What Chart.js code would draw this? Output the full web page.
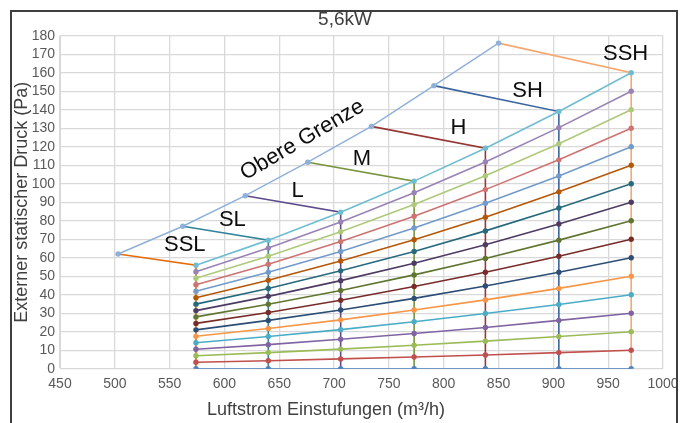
<!DOCTYPE html>
<html>
<head>
<meta charset="utf-8">
<script src="https://cdn.jsdelivr.net/npm/chart.js@4/dist/chart.umd.min.js"></script>
<style>
html,body{margin:0;padding:0;background:#fff;overflow:hidden;}
#wrap{position:relative;width:686px;height:423px;}
</style>
</head>
<body>
<div id="wrap"><canvas id="c" width="686" height="423"></canvas></div>
<script>
// ---- data ----
const airflow = [574, 640, 706, 773, 838, 905, 971];          // m3/h at the seven fan steps
const stepNames = ['SSL', 'SL', 'L', 'M', 'H', 'SH', 'SSH'];
const limitAirflow = [503, 562, 619, 676, 734, 791, 850];     // upper limit (Obere Grenze) x
const limitPressure = [62, 77, 93.5, 111.6, 131, 153, 176];   // upper limit y

const curve0   = [0, 0, 0, 0, 0, 0, 0];
const curve10  = [3.5, 4.3, 5.3, 6.3, 7.4, 8.7, 10];
const curve20  = [7.0, 8.7, 10.6, 12.7, 14.9, 17.4, 20];
const curve30  = [10.5, 13.0, 15.9, 19.0, 22.3, 26.1, 30];
const curve40  = [14.0, 17.4, 21.1, 25.4, 29.8, 34.7, 40];
const curve50  = [17.5, 21.7, 26.4, 31.7, 37.2, 43.4, 50];
const curve60  = [21.0, 26.1, 31.7, 38.0, 44.7, 52.1, 60];
const curve70  = [24.5, 30.4, 37.0, 44.4, 52.1, 60.8, 70];
const curve80  = [28.0, 34.8, 42.3, 50.7, 59.6, 69.5, 80];
const curve90  = [31.4, 39.1, 47.6, 57.0, 67.0, 78.2, 90];
const curve100 = [34.9, 43.4, 52.9, 63.4, 74.5, 86.9, 100];
const curve110 = [38.4, 47.8, 58.2, 69.7, 81.9, 95.6, 110];
const curve120 = [41.9, 52.1, 63.4, 76.1, 89.4, 104.2, 120];
const curve130 = [45.4, 56.5, 68.7, 82.4, 96.8, 112.9, 130];
const curve140 = [48.9, 60.8, 74.0, 88.7, 104.3, 121.6, 140];
const curve150 = [52.4, 65.2, 79.3, 95.1, 111.7, 130.3, 150];
const curve160 = [55.9, 69.5, 84.6, 101.4, 119.2, 139.0, 160];

const xTicks = [450, 500, 550, 600, 650, 700, 750, 800, 850, 900, 950, 1000];
const yTicks = [0, 10, 20, 30, 40, 50, 60, 70, 80, 90, 100, 110, 120, 130, 140, 150, 160, 170, 180];

// ---- styles ----
const curves = [curve0, curve10, curve20, curve30, curve40, curve50, curve60, curve70, curve80,
                curve90, curve100, curve110, curve120, curve130, curve140, curve150, curve160];
const curveColors = ['#4F81BD', '#C0504D', '#9BBB59', '#8064A2', '#4BACC6', '#F79646',
                     '#2C4D75', '#772C2A', '#5F7530', '#4D3B62', '#276A7C', '#B65708',
                     '#729ACA', '#CD7371', '#AFC97A', '#9983B5', '#6FBDD1'];
const stepColors = ['#E46C0A', '#31849B', '#5F4B8B', '#77933C', '#953735', '#3A64A0', '#F7A871'];
const limitColor = '#8EB0DA';
const FONT = '"Liberation Sans", Arial, sans-serif';

const datasets = [];
curves.forEach((c, i) => {
  datasets.push({
    data: airflow.map((x, j) => ({x: x, y: c[j]})),
    borderColor: curveColors[i], backgroundColor: curveColors[i],
    borderWidth: 1.6, pointRadius: 2.7, pointBorderWidth: 0, pointHoverRadius: 2.7,
    showLine: true, tension: 0, order: 1
  });
});
datasets.push({
  data: limitAirflow.map((x, j) => ({x: x, y: limitPressure[j]})),
  borderColor: limitColor, backgroundColor: limitColor,
  borderWidth: 1.4, pointRadius: 2.7, pointBorderWidth: 0,
  showLine: true, tension: 0, order: 2
});
stepNames.forEach((n, i) => {
  datasets.push({
    label: n,
    data: [{x: limitAirflow[i], y: limitPressure[i]}, {x: airflow[i], y: curve160[i]}, {x: airflow[i], y: 0}],
    borderColor: stepColors[i], backgroundColor: stepColors[i],
    borderWidth: 1.6, pointRadius: 0,
    showLine: true, tension: 0, order: 3
  });
});

const annotations = [
  {text: 'SSL', x: 563.8, y: 66.7, rot: 0},
  {text: 'SL', x: 607.2, y: 80.5, rot: 0},
  {text: 'L', x: 666.7, y: 95.9, rot: 0},
  {text: 'M', x: 725.3, y: 113.5, rot: 0},
  {text: 'H', x: 813.4, y: 130.3, rot: 0},
  {text: 'SH', x: 876.4, y: 150.1, rot: 0},
  {text: 'SSH', x: 965.9, y: 170.2, rot: 0},
  {text: 'Obere Grenze', x: 671, y: 123.6, rot: -30.4}
];

const labelPlugin = {
  id: 'labels',
  afterDatasetsDraw(chart) {
    const ctx = chart.ctx, xs = chart.scales.x, ys = chart.scales.y;
    ctx.save();
    ctx.fillStyle = '#0d0d0d';
    ctx.font = '22px ' + FONT;
    ctx.textAlign = 'center';
    ctx.textBaseline = 'middle';
    annotations.forEach(a => {
      const px = xs.getPixelForValue(a.x), py = ys.getPixelForValue(a.y);
      ctx.save();
      ctx.translate(px, py);
      ctx.rotate(a.rot * Math.PI / 180);
      ctx.fillText(a.text, 0, 0);
      ctx.restore();
    });
    ctx.restore();
  },
  afterDraw(chart) {
    const ctx = chart.ctx;
    ctx.save();
    ctx.textAlign = 'center';
    ctx.textBaseline = 'middle';
    // chart title
    ctx.fillStyle = '#404040';
    ctx.font = '19px ' + FONT;
    ctx.fillText('5,6kW', 345, 20);
    // x axis title (placed as in the reference, left of plot centre)
    ctx.font = '18px ' + FONT;
    ctx.fillText('Luftstrom Einstufungen (m³/h)', 326, 410);
    // outer frame
    ctx.strokeStyle = '#3f3f3f';
    ctx.lineWidth = 2;
    ctx.strokeRect(11, 11, 666, 440);
    ctx.restore();
  }
};

new Chart(document.getElementById('c'), {
  type: 'scatter',
  data: {datasets: datasets},
  plugins: [labelPlugin],
  options: {
    responsive: false, animation: false, devicePixelRatio: 1,
    layout: {padding: {left: 0, right: 23, top: 35.7, bottom: 0}},
    plugins: {
      legend: {display: false}, tooltip: {enabled: false}, title: {display: false}
    },
    scales: {
      x: {
        type: 'linear', min: 450, max: 1000,
        afterBuildTicks: s => { s.ticks = xTicks.map(v => ({value: v})); },
        afterFit: s => { s.height = 54.3; },
        grid: {color: '#D9D9D9', lineWidth: 1.3, drawTicks: false},
        border: {color: '#D9D9D9'},
        ticks: {color: '#595959', font: {family: FONT, size: 14}, padding: 7, maxRotation: 0,
                autoSkip: false, callback: v => String(v)}
      },
      y: {
        type: 'linear', min: 0, max: 180,
        afterBuildTicks: s => { s.ticks = yTicks.map(v => ({value: v})); },
        afterFit: s => { s.width = 60; },
        grid: {color: '#D9D9D9', lineWidth: 1.3, drawTicks: false},
        border: {color: '#D9D9D9'},
        ticks: {color: '#595959', font: {family: FONT, size: 14}, padding: 5, autoSkip: false,
                callback: v => String(v)},
        title: {display: true, text: 'Externer statischer Druck (Pa)', color: '#404040',
                font: {family: FONT, size: 18}, padding: {top: 11, bottom: 0}}
      }
    }
  }
});
</script>
</body>
</html>
